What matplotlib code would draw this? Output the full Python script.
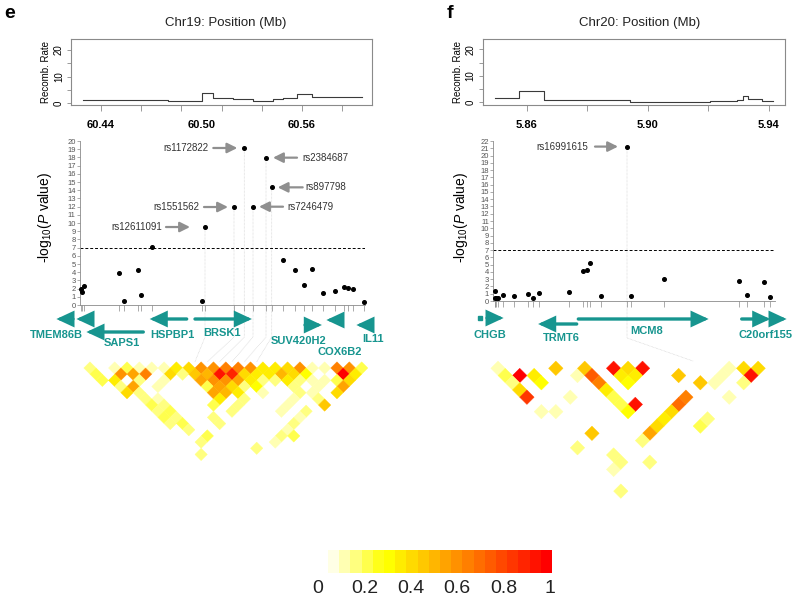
import numpy as np
import matplotlib
matplotlib.use("Agg")
import matplotlib.pyplot as plt
from matplotlib.collections import PolyCollection
from matplotlib.colors import ListedColormap
from matplotlib.lines import Line2D

plt.rcParams['font.family'] = ['Liberation Sans', 'DejaVu Sans']
plt.rcParams['mathtext.fontset'] = 'custom'
plt.rcParams['mathtext.rm'] = 'Liberation Sans'
plt.rcParams['mathtext.it'] = 'Liberation Sans:italic'

# ---------------- panel e : chr19 ----------------
e_rec_pos = [60.4291, 60.4802, 60.5001, 60.5070, 60.5190, 60.5309, 60.5429, 60.5488, 60.5568, 60.5661, 60.5960]
e_rec_rate = [1.4, 1.0, 3.7, 1.9, 1.6, 0.8, 1.6, 2.0, 3.4, 2.2, 2.2]

e_snp_pos = [60.42806, 60.42866, 60.42985, 60.45057, 60.45391, 60.46227, 60.46406, 60.47045,
             60.50012, 60.50209, 60.51940, 60.52555, 60.53075, 60.53851, 60.54191, 60.54848,
             60.55564, 60.56137, 60.56615, 60.57254, 60.57988, 60.58525, 60.58746, 60.59063, 60.59684]
e_snp_logp = [1.91, 1.54, 2.36, 3.86, 0.49, 4.27, 1.26, 7.11, 0.45, 9.51, 11.95, 19.15, 11.99,
              17.97, 14.35, 5.49, 4.31, 2.44, 4.43, 1.50, 1.75, 2.20, 2.07, 1.91, 0.37]
e_hit_idx = [9, 10, 11, 12, 13, 14]
e_hit_names = ['rs12611091', 'rs1551562', 'rs1172822', 'rs7246479', 'rs2384687', 'rs897798']

e_gene_names = ['TMEM86B', '', 'SAPS1', 'HSPBP1', 'BRSK1', 'SUV420H2', 'COX6B2', 'IL11']
e_gene_tail = [60.42328, 60.43385, 60.46525, 60.49116, 60.49612, 60.56179, 60.58269, 60.60101]
e_gene_tip = [60.41254, 60.42448, 60.43045, 60.46824, 60.53093, 60.57272, 60.57373, 60.59164]

e_ld = [
    (0, 1, .12), (2, 3, .07), (3, 4, .17), (4, 5, .07), (5, 6, .07), (6, 7, .08), (7, 8, .3), (8, 9, .35),
    (9, 10, .58), (10, 11, .55), (11, 12, .6), (12, 13, .6), (13, 14, .55), (14, 15, .3), (15, 16, .3),
    (16, 17, .35), (17, 18, .55), (18, 19, .08), (19, 20, .07), (20, 21, .6), (21, 22, .55), (22, 23, .15),
    (0, 2, .15), (2, 4, .55), (3, 5, .5), (4, 6, .6), (6, 8, .35), (7, 9, .1), (8, 10, .4), (9, 11, .45),
    (10, 12, .9), (11, 13, .85), (12, 14, .35), (13, 15, .3), (14, 16, .3), (15, 17, .45), (16, 18, .35),
    (17, 19, .25), (20, 22, .95), (21, 23, .3),
    (0, 3, .15), (1, 4, .3), (3, 6, .1), (5, 8, .08), (8, 11, .5), (9, 12, .55), (10, 13, .55), (11, 14, .5),
    (12, 15, .3), (13, 16, .1), (14, 17, .1), (15, 18, .3), (16, 19, .1), (17, 20, .07), (18, 21, .08),
    (19, 22, .15), (20, 23, .35),
    (1, 5, .1), (2, 6, .5), (4, 8, .08), (8, 12, .15), (9, 13, .5), (10, 14, .35), (11, 15, .1), (12, 16, .25),
    (15, 19, .1), (17, 21, .07), (19, 23, .5),
    (1, 6, .35), (2, 7, .1), (8, 13, .5), (9, 14, .45), (10, 15, .3), (12, 17, .08), (15, 20, .1),
    (16, 21, .08), (18, 23, .35),
    (2, 8, .1), (3, 9, .08), (8, 14, .3), (10, 16, .1), (14, 20, .08), (16, 22, .1),
    (2, 9, .15), (3, 10, .1), (7, 14, .15), (9, 16, .1), (13, 20, .07), (16, 23, .4),
    (2, 10, .1), (3, 11, .15), (8, 16, .1), (12, 20, .08), (14, 22, .1),
    (2, 11, .15), (3, 12, .1), (6, 15, .1), (13, 22, .08),
    (2, 12, .1), (3, 13, .15), (6, 16, .1), (12, 22, .1),
    (3, 14, .1), (11, 22, .08), (4, 16, .15), (10, 22, .1), (11, 23, .15),
    (3, 16, .1), (9, 22, .08), (7, 21, .1), (2, 17, .1),
]

# ---------------- panel f : chr20 ----------------
f_rec_pos = [5.8495, 5.8576, 5.8657, 5.8942, 5.9206, 5.9294, 5.9314, 5.9333, 5.9377, 5.9415]
f_rec_rate = [1.5, 4.3, 0.9, 0.1, 0.5, 0.9, 2.3, 1.3, 0.5, 0.5]

f_snp_pos = [5.84952, 5.84942, 5.84995, 5.85041, 5.85207, 5.85570, 5.86043, 5.86198, 5.86417, 5.87398,
             5.87861, 5.88004, 5.88083, 5.88456, 5.89316, 5.89458, 5.90549, 5.93028, 5.93273, 5.93835, 5.94053]
f_snp_logp = [1.42, 0.46, 0.37, 0.46, 0.87, 0.64, 0.96, 0.46, 1.15, 1.24, 4.13, 4.31, 5.28, 0.69,
              21.24, 0.73, 3.07, 2.75, 0.78, 2.57, 0.55]
f_hit_idx = [14]
f_hit_names = ['rs16991615']

f_gene_names = ['CHGB', 'TRMT6', 'MCM8', 'C20orf155', '']
f_gene_tail = [5.84688, 5.87653, 5.87706, 5.93107, 5.94142]
f_gene_tip = [5.85283, 5.86331, 5.92060, 5.94099, 5.94638]
f_exon_dot = [5.84456]

f_ld = [
    (0, 1, .08), (0, 2, .17), (1, 3, .95), (0, 3, .1), (0, 4, .38), (0, 5, .8), (2, 4, .32), (2, 5, .28),
    (4, 5, .4), (0, 7, .08), (1, 8, .08), (3, 8, .08), (5, 7, .07), (6, 7, .4), (6, 8, .7), (6, 9, .6),
    (6, 10, .3), (6, 11, .17), (6, 12, .15), (8, 9, .92), (9, 10, .35), (10, 11, .92), (8, 10, .3),
    (9, 11, .3), (8, 11, .28), (7, 13, .9), (6, 13, .25), (2, 12, .4), (0, 12, .1), (2, 15, .1),
    (1, 16, .08), (0, 18, .1), (2, 16, .1), (4, 18, .1), (12, 14, .4), (13, 16, .4), (11, 16, .6),
    (10, 16, .65), (9, 16, .35), (8, 16, .3), (7, 16, .35), (6, 16, .5), (5, 16, .1), (10, 19, .15),
    (11, 19, .1), (14, 17, .08), (16, 17, .08), (15, 17, .08), (17, 18, .35), (18, 19, .35),
    (17, 19, .9), (16, 19, .1), (14, 19, .08),
]

cbar_labels = ['0', '0.2', '0.4', '0.6', '0.8', '1']

# R's heat.colors(20), reversed: pale yellow -> red
heat = [(1, k / 14, 0) for k in range(15)] + [(1, 1, 1 - s) for s in (0.9, 0.7, 0.5, 0.3, 0.1)]
ld_cmap = ListedColormap(heat[::-1])

TEAL = '#17958f'
W, H = 800, 605
fig = plt.figure(figsize=(W / 100, H / 100), dpi=100)


def rect(x0, y0, x1, y1):
    # pixel box (origin top-left) -> figure fraction
    return [x0 / W, 1 - y1 / H, (x1 - x0) / W, (y1 - y0) / H]


panels = [
    dict(letter='e', title='Chr19: Position (Mb)', scale=1675, ref=(101, 60.44),
         rec_pos=e_rec_pos, rec_rate=e_rec_rate, snp_pos=e_snp_pos, logp=e_snp_logp,
         hit_idx=e_hit_idx, hit_names=e_hit_names, genes=(e_gene_names, e_gene_tail, e_gene_tip),
         dots=[], ld=e_ld, ymax=20,
         rec_ticks=[60.44 + 0.024 * k for k in range(7)], rec_labels=[60.44, 60.50, 60.56],
         letter_xy=(10, 14), title_xy=(226, 23),
         rec_box=(71, 39.3, 371.7, 105), rec_ylim=(-0.64, 24.0), rec_ylab_x=46,
         man_box=(80, 136.1, 365, 305), man_ylim=(0, 20.6), man_ylab_x=45,
         hit_off=[(-43, -39, -15), (-35, -30, -6), (-36, -31, -7), (34, 30, 6), (36, 31, 7), (34, 31, 6)],
         gene_box=(40, 300, 385, 362), gene_rows=[319, 319, 332, 319, 319, 325, 320, 325],
         gene_lab=[(60.41355, 335), None, (60.45254, 343), (60.48239, 335), (60.51224, 333),
                   (60.55821, 341), (60.58269, 352), (60.60239, 339)],
         conn_y=337,
         ld_box=(40, 345, 385, 475), ld_x0=83.8, ld_d=12.35, ld_top=368),
    dict(letter='f', title='Chr20: Position (Mb)', scale=3025, ref=(526.7, 5.86),
         rec_pos=f_rec_pos, rec_rate=f_rec_rate, snp_pos=f_snp_pos, logp=f_snp_logp,
         hit_idx=f_hit_idx, hit_names=f_hit_names, genes=(f_gene_names, f_gene_tail, f_gene_tip),
         dots=f_exon_dot, ld=f_ld, ymax=22,
         rec_ticks=[5.86, 5.88, 5.90, 5.92, 5.94], rec_labels=[5.86, 5.90, 5.94],
         letter_xy=(450, 14), title_xy=(640, 23),
         rec_box=(482.7, 39.3, 785, 105), rec_ylim=(-1.0, 23.8), rec_ylab_x=458,
         man_box=(493.3, 136.7, 775, 301), man_ylim=(0, 22.6), man_ylab_x=461,
         hit_off=[(-39, -32, -9)],
         gene_box=(470, 300, 800, 362), gene_rows=[318, 324, 319, 319, 319],
         gene_lab=[(5.84787, 335), (5.87157, 338), (5.89967, 331), (5.93878, 335), None],
         conn_y=338,
         ld_box=(470, 345, 800, 500), ld_x0=490.8, ld_d=14.45, ld_top=368.3),
]

for P in panels:
    sc, (rp, rm) = P['scale'], P['ref']

    def mb(p):
        return rm + (p - rp) / sc

    fig.text(P['letter_xy'][0] / W, 1 - P['letter_xy'][1] / H, P['letter'], fontsize=14,
             fontweight='bold', ha='center', va='center')
    fig.text(P['title_xy'][0] / W, 1 - P['title_xy'][1] / H, P['title'], fontsize=9.5,
             ha='center', va='center', color='#222222')

    # recombination rate track
    b = P['rec_box']
    ax = fig.add_axes(rect(*b))
    ax.step(P['rec_pos'], P['rec_rate'], where='post', color='#3a3a3a', lw=0.8)
    ax.set_xlim(mb(b[0]), mb(b[2]))
    ax.set_ylim(*P['rec_ylim'])
    for s in ax.spines.values():
        s.set_color('#8a8a8a')
        s.set_linewidth(0.8)
    ax.set_yticks([0, 5, 10, 15, 20])
    ax.set_yticklabels(['0', '', '10', '', '20'], rotation=90, va='center', fontsize=7)
    ax.tick_params(axis='y', length=3, width=0.6, color='#8a8a8a', pad=2)
    ax.xaxis.remove_overlapping_locs = False
    ax.set_xticks(P['rec_ticks'], minor=True)
    ax.set_xticks(P['rec_labels'])
    ax.set_xticklabels(['%.2f' % v for v in P['rec_labels']], fontsize=8, fontweight='bold')
    ax.tick_params(axis='x', which='minor', length=4, width=0.6, color='#8a8a8a')
    ax.tick_params(axis='x', which='major', length=0, pad=11)
    fig.text(P['rec_ylab_x'] / W, 1 - (b[1] + b[3]) / 2 / H, 'Recomb. Rate', rotation=90,
             fontsize=7, ha='center', va='center')

    # association track
    b = P['man_box']
    ax = fig.add_axes(rect(*b))
    ax.patch.set_alpha(0)
    ax.set_xlim(mb(b[0]), mb(b[2]))
    ax.set_ylim(*P['man_ylim'])
    ax.spines['top'].set_visible(False)
    ax.spines['right'].set_visible(False)
    ax.spines['left'].set_bounds(0, P['ymax'])
    for s in ('left', 'bottom'):
        ax.spines[s].set_color('#8a8a8a')
        ax.spines[s].set_linewidth(0.6)
    ax.set_yticks(range(P['ymax'] + 1))
    ax.set_yticklabels([str(v) for v in range(P['ymax'] + 1)], fontsize=5.5, color='#555555')
    ax.tick_params(axis='y', length=2, width=0.5, color='#8a8a8a', pad=1)
    ax.set_xticks(P['snp_pos'])
    ax.set_xticklabels([])
    ax.tick_params(axis='x', length=4, width=0.5, color='#8a8a8a')
    ax.axhline(7, color='k', lw=0.7, ls=(0, (3, 2)))
    ax.plot(P['snp_pos'], P['logp'], 'o', ms=2.6, color='k', clip_on=False, zorder=3)
    for k, name, (tx, ta, tb) in zip(P['hit_idx'], P['hit_names'], P['hit_off']):
        x, y = P['snp_pos'][k], P['logp'][k]
        ax.annotate('', xy=(x, y), xytext=(ta * 0.72, 0), textcoords='offset points',
                    arrowprops=dict(arrowstyle='-|>,head_length=0.6,head_width=0.3', color='#8f8f8f',
                                    lw=1.6, shrinkA=0, shrinkB=abs(tb) * 0.72, mutation_scale=10))
        ax.annotate(name, xy=(x, y), xytext=(tx * 0.72, 0), textcoords='offset points',
                    ha='right' if tx < 0 else 'left', va='center', fontsize=7, color='#333333')
    fig.text(P['man_ylab_x'] / W, 1 - 217 / H, r'-log$_{10}$($\mathit{P}$ value)', rotation=90,
             fontsize=10, ha='center', va='center')
    man_ax = ax

    # gene track
    b = P['gene_box']
    gx = fig.add_axes(rect(*b))
    gx.axis('off')
    gx.set_xlim(mb(b[0]), mb(b[2]))
    gx.set_ylim(b[3], b[1])
    names, tails, tips = P['genes']
    for name, t0, t1, row, lab in zip(names, tails, tips, P['gene_rows'], P['gene_lab']):
        gx.annotate('', xy=(t1, row), xytext=(t0, row),
                    arrowprops=dict(arrowstyle='-|>,head_length=0.75,head_width=0.35', color=TEAL,
                                    lw=2.4, shrinkA=0, shrinkB=1, mutation_scale=12,
                                    joinstyle='miter'))
        if lab is not None:
            gx.text(lab[0], lab[1], name, ha='center', va='center', color=TEAL, fontsize=8,
                    fontweight='bold')
    for xd in P['dots']:
        gx.plot([xd], [P['gene_rows'][0]], 's', ms=2.5, color=TEAL)

    # LD heatmap
    b = P['ld_box']
    x0, d, top = P['ld_x0'], P['ld_d'], P['ld_top']
    lx = fig.add_axes(rect(*b))
    lx.axis('off')
    lx.set_xlim((b[0] - x0) / d, (b[2] - x0) / d)
    lx.set_ylim(-0.5 - (b[3] - top) / d, -0.5 - (b[1] - top) / d)
    polys, cols = [], []
    for i, j, r in P['ld']:
        cx, cy = (i + j) / 2, -(j - i) / 2
        polys.append([(cx - .5, cy), (cx, cy + .5), (cx + .5, cy), (cx, cy - .5)])
        cols.append(ld_cmap(r))
    lx.add_collection(PolyCollection(polys, facecolors=cols, edgecolors=cols, linewidths=0.3))

    # connectors from hit SNPs to the LD triangle
    inv = fig.transFigure.inverted()
    for k in P['hit_idx']:
        p1 = man_ax.transData.transform((P['snp_pos'][k], P['logp'][k]))
        p2 = gx.transData.transform((P['snp_pos'][k], P['conn_y']))
        p3 = lx.transData.transform((k, 0))
        pts = inv.transform(np.array([p1, p2, p3]))
        fig.add_artist(Line2D(pts[:, 0], pts[:, 1], transform=fig.transFigure, color='#d2d2d2',
                              lw=0.5, ls=(0, (1, 1)), zorder=0))

# colour key
cax = fig.add_axes(rect(318, 550, 552, 573.3))
cax.imshow(np.arange(20).reshape(1, -1), cmap=ld_cmap, aspect='auto', extent=(0, 1, 0, 1),
           vmin=0, vmax=19)
cax.set_xlim(-0.045, 1.0)
for s in cax.spines.values():
    s.set_visible(False)
cax.set_yticks([])
cax.set_xticks([-0.045 + 1.036 * float(t) for t in cbar_labels])
cax.set_xticklabels(cbar_labels, fontsize=14, color='#222222')
cax.tick_params(axis='x', length=0, pad=5)

fig.savefig('out.png', dpi=100)
